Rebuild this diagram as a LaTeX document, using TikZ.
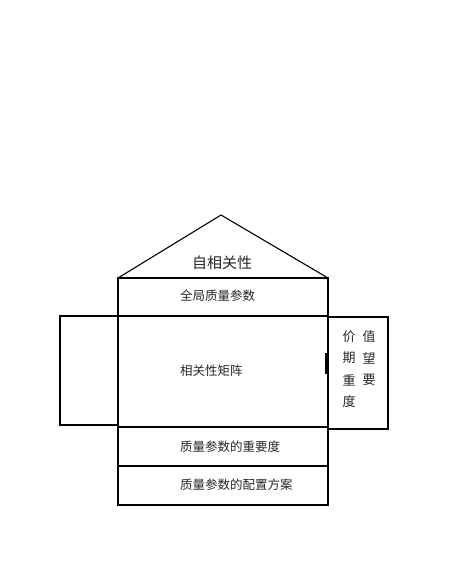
\documentclass[tikz,border=0pt]{standalone}
\usepackage{fontspec}
\newfontfamily\cjk{Noto Sans CJK SC}
\begin{document}
\begin{tikzpicture}[x=1pt,y=-1pt,
  ln/.style={line width=1.1pt,black},
  lbl/.style={font=\cjk\fontsize{12.5}{14}\selectfont,inner sep=0pt,text=black!85},
  ch/.style={font=\cjk\fontsize{13}{14}\selectfont,inner sep=0pt,text=black!85}]
\useasboundingbox (0,0) rectangle (461,587);
\coordinate (apex) at (221,215);
\coordinate (rl) at (118,278);
\coordinate (rr) at (328,278);
\draw[ln] (rl) -- (apex) -- (rr);
\draw[ln] (118,278) rectangle (328,316);
\draw[ln] (118,316) rectangle (328,427);
\draw[ln] (118,427) rectangle (328,466);
\draw[ln] (118,466) rectangle (328,505);
\draw[ln] (60,316) rectangle (118,425);
\draw[ln] (328,317) rectangle (388,429);
\fill[black] (324.5,353) rectangle (327.5,374);
\node[font=\cjk\fontsize{15}{16}\selectfont,inner sep=0pt,text=black!85] (t0) at (222,263) {自相关性};
\node[lbl,anchor=west] (t1) at (180,296) {全局质量参数};
\node[lbl,anchor=west] (t2) at (180,371) {相关性矩阵};
\node[lbl,anchor=west] (t3) at (180,447) {质量参数的重要度};
\node[lbl,anchor=west] (t4) at (180,485) {质量参数的配置方案};
\node[ch] (a1) at (349,337) {价};
\node[ch] (a2) at (349,358) {期};
\node[ch] (a3) at (349,380) {重};
\node[ch] (a4) at (349,402) {度};
\node[ch] (b1) at (369,337) {值};
\node[ch] (b2) at (369,358) {望};
\node[ch] (b3) at (369,380) {要};
\end{tikzpicture}
\end{document}
